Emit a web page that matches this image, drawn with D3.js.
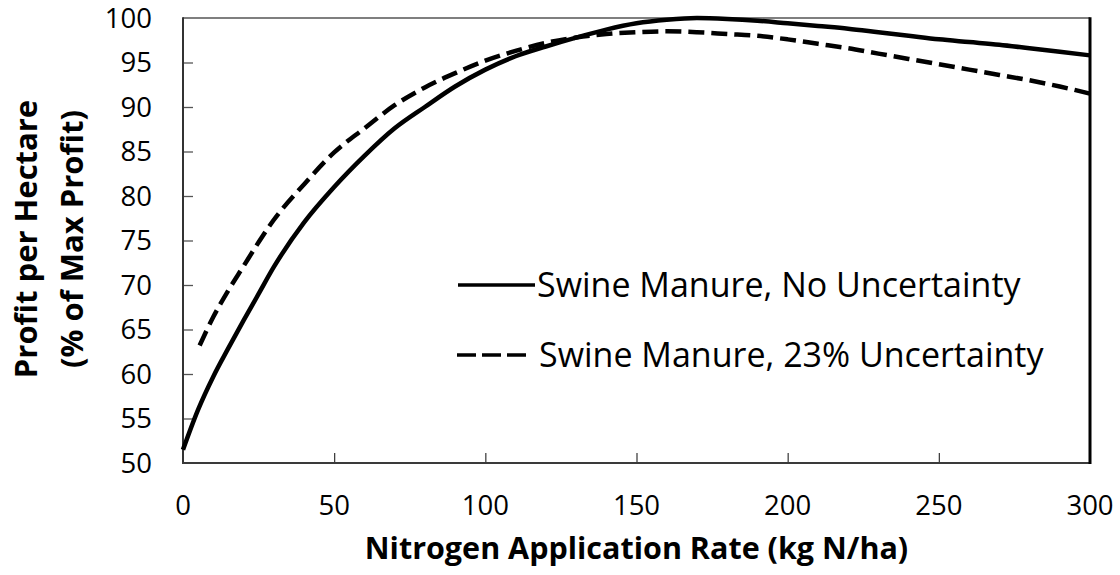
<!DOCTYPE html>
<html>
<head>
<meta charset="utf-8">
<script src="https://cdn.jsdelivr.net/npm/d3@7"></script>
<style>
  html, body { margin: 0; padding: 0; background: #fff; }
  svg { display: block; }
  text { font-family: "Open Sans", "DejaVu Sans", sans-serif; fill: #000; }
</style>
</head>
<body>
<svg id="chart" width="1120" height="575"></svg>
<script>
// ---- data ----
const rates = [0,5,10,15,20,25,30,40,50,60,70,80,90,100,110,120,130,140,150,160,170,180,190,200,210,220,230,240,250,260,270,280,290,300];
const noUncertainty = [51.5,56.0,59.7,62.9,66.0,69.0,72.0,77.0,81.0,84.5,87.6,90.0,92.3,94.2,95.7,96.8,97.8,98.7,99.4,99.8,100.0,99.9,99.7,99.4,99.1,98.8,98.4,98.0,97.6,97.3,97.0,96.6,96.2,95.8];
const uncRates = [5.5,10,15,20,25,30,40,50,60,70,80,90,100,110,120,130,140,150,160,170,180,190,200,210,220,230,240,250,260,270,280,290,300];
const withUncertainty = [63.2,66.4,69.4,72.1,74.8,77.3,81.3,84.9,87.6,90.2,92.2,93.8,95.2,96.3,97.2,97.8,98.2,98.4,98.5,98.4,98.2,98.0,97.6,97.1,96.6,96.0,95.4,94.8,94.2,93.6,93.0,92.3,91.5];
const xTicks = [0,50,100,150,200,250,300];
const yTicks = [50,55,60,65,70,75,80,85,90,95,100];
const seriesNames = ["Swine Manure, No Uncertainty", "Swine Manure, 23% Uncertainty"];
const xTitle = "Nitrogen Application Rate (kg N/ha)";
const yTitleLines = ["Profit per Hectare", "(% of Max Profit)"];

// ---- layout ----
const L = 183, R = 1090, T = 18, B = 463;
const svg = d3.select("#chart");
const x = d3.scaleLinear().domain([0, 300]).range([L, R]);
const y = d3.scaleLinear().domain([50, 100]).range([B, T]);

// top border
svg.append("line").attr("x1", L).attr("x2", R).attr("y1", T).attr("y2", T)
  .attr("stroke", "#555").attr("stroke-width", 1.5);

// y axis
const yAxis = svg.append("g").attr("transform", `translate(${L},0)`)
  .call(d3.axisRight(y).tickValues(yTicks).tickSize(10).tickFormat(""));
yAxis.select(".domain").remove();
yAxis.selectAll(".tick line").attr("stroke", "#555").attr("stroke-width", 1.3);
yAxis.selectAll(".tick").filter(d => d === 50 || d === 100).remove();

svg.selectAll(".ylab").data(yTicks).enter().append("text")
  .attr("class", "ylab")
  .attr("x", 152).attr("y", d => y(d)).attr("dy", "0.36em")
  .attr("text-anchor", "end").attr("font-size", 27.5).text(d => d);

// x axis
const xAxis = svg.append("g").attr("transform", `translate(0,${B})`)
  .call(d3.axisTop(x).tickValues(xTicks).tickSize(10).tickFormat(""));
xAxis.select(".domain").remove();
xAxis.selectAll(".tick line").attr("stroke", "#333").attr("stroke-width", 1.2);
xAxis.selectAll(".tick").filter(d => d === 0 || d === 300).remove();

svg.selectAll(".xlab").data(xTicks).enter().append("text")
  .attr("class", "xlab")
  .attr("x", d => x(d)).attr("y", 515)
  .attr("text-anchor", "middle").attr("font-size", 27.5).text(d => d);

svg.append("line").attr("x1", L).attr("x2", L).attr("y1", T - 0.75).attr("y2", B + 1)
  .attr("stroke", "#333").attr("stroke-width", 2);
svg.append("line").attr("x1", L - 1).attr("x2", R).attr("y1", B).attr("y2", B)
  .attr("stroke", "#3a3a3a").attr("stroke-width", 2);

// curves
const line = d3.line().curve(d3.curveMonotoneX);
svg.append("path")
  .attr("d", line(rates.map((r, i) => [x(r), y(noUncertainty[i])])))
  .attr("fill", "none").attr("stroke", "#000").attr("stroke-width", 4.5);
svg.append("path")
  .attr("d", line(uncRates.map((r, i) => [x(r), y(withUncertainty[i])])))
  .attr("fill", "none").attr("stroke", "#000").attr("stroke-width", 4.5)
  .attr("stroke-dasharray", "16,7");

svg.append("line").attr("x1", R).attr("x2", R).attr("y1", T - 0.75).attr("y2", B + 1)
  .attr("stroke", "#000").attr("stroke-width", 3);

// legend
svg.append("line").attr("x1", 458).attr("x2", 535).attr("y1", 285).attr("y2", 285)
  .attr("stroke", "#000").attr("stroke-width", 3.5);
svg.append("text").attr("x", 537).attr("y", 297).attr("font-size", 34).text(seriesNames[0]);
svg.append("line").attr("x1", 457).attr("x2", 528).attr("y1", 355).attr("y2", 355)
  .attr("stroke", "#000").attr("stroke-width", 3.5).attr("stroke-dasharray", "19,6");
svg.append("text").attr("x", 539).attr("y", 367).attr("font-size", 34).text(seriesNames[1]);

// titles
svg.append("text").attr("x", (L + R) / 2).attr("y", 559)
  .attr("text-anchor", "middle").attr("font-size", 30.5).attr("font-weight", "bold").text(xTitle);
svg.append("text").attr("transform", "translate(37,239) rotate(-90)")
  .attr("text-anchor", "middle").attr("font-size", 31).attr("font-weight", "bold").text(yTitleLines[0]);
svg.append("text").attr("transform", "translate(83,239) rotate(-90)")
  .attr("text-anchor", "middle").attr("font-size", 31).attr("font-weight", "bold").text(yTitleLines[1]);
</script>
</body>
</html>
